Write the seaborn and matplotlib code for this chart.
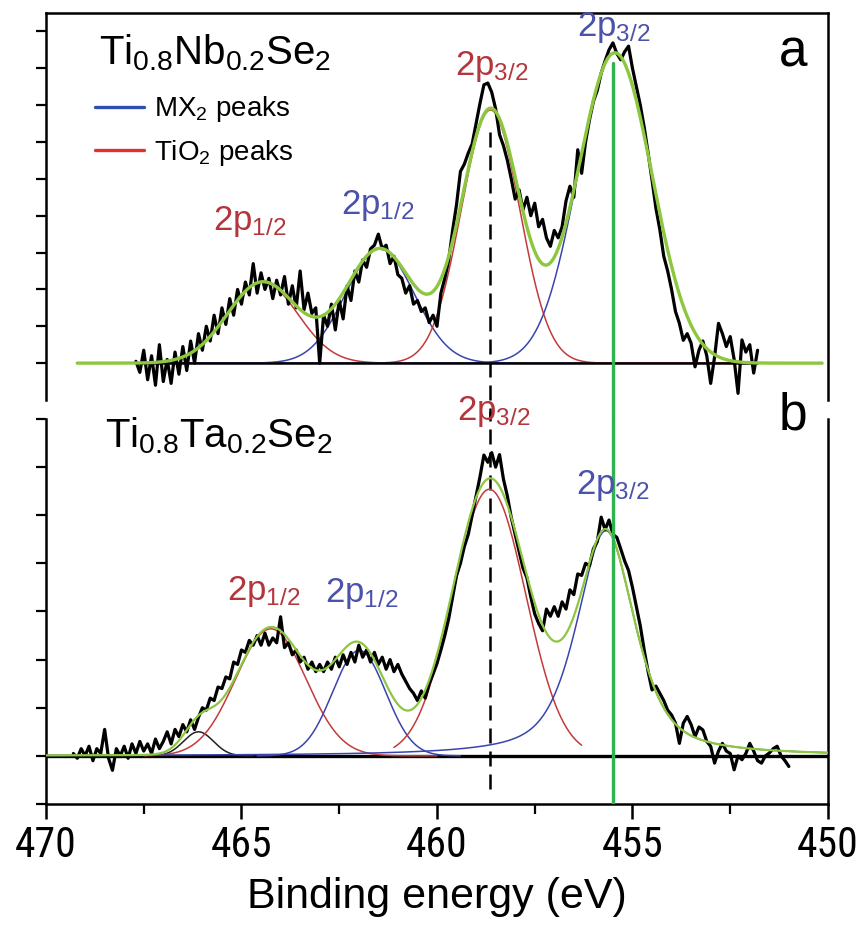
import numpy as np
import pandas as pd
import matplotlib
matplotlib.use("Agg")
import matplotlib.pyplot as plt
from matplotlib.lines import Line2D
from matplotlib.ticker import MultipleLocator
from matplotlib import font_manager
import seaborn as sns

# ---------------- data ----------------
energy_step = 0.1
# panel a: Ti0.8Nb0.2Se2 measured spectrum, starts at 467.7 eV going down
a_start = 467.7
a_counts = [0.05, -0.25, 0.35, -0.45, 0.2, -0.6, 0.5, -0.5, 0.1, -0.55,
            0.3, -0.3, 0.45, -0.2, 0.6, 0.0, 0.8, 0.35, 1.0, 0.6,
            1.3, 0.8, 1.5, 1.05, 1.75, 1.3, 2.0, 1.6, 2.2, 1.85,
            2.7, 1.9, 2.45, 2.0, 2.3, 1.75, 2.25, 1.85, 2.35, 1.6,
            2.1, 1.5, 2.5, 1.45, 1.9, 1.35, 1.5, 0.0, 1.3, 1.0,
            1.6, 0.9, 1.7, 1.2, 2.1, 1.7, 2.5, 2.2, 2.8, 2.6,
            3.1, 3.2, 3.5, 3.1, 3.2, 2.7, 2.9, 2.4, 2.3, 1.9,
            2.1, 1.6, 1.7, 1.4, 1.5, 1.1, 1.3, 1.0, 1.9, 2.3,
            2.8, 3.6, 4.3, 5.2, 5.4, 5.7, 5.95, 6.5, 7.05, 7.55,
            7.6, 7.35, 6.9, 6.2, 5.9, 5.5, 5.0, 4.45, 4.7, 4.16,
            4.5, 4.0, 4.34, 3.7, 3.9, 3.4, 3.17, 3.6, 3.4, 3.7,
            4.4, 4.8, 4.5, 5.79, 5.15, 6.0, 6.6, 7.1, 7.4, 7.87,
            8.2, 8.5, 8.69, 8.4, 8.23, 8.45, 8.6, 8.0, 7.5, 7.0,
            6.4, 5.7, 4.97, 4.2, 3.62, 2.9, 2.5, 2.0, 1.4, 1.08,
            0.62, 0.8, 0.54, -0.1, 0.35, 0.6, 0.2, -0.55, 0.17, 1.08,
            0.8, 0.45, 0.72, 0.1, -0.82, 0.63, 0.3, 0.5, -0.27, 0.35]
# panel b: Ti0.8Ta0.2Se2 measured spectrum, starts at 469.3 eV going down
b_start = 469.3
b_counts = [0.05, -0.05, 0.15, 0.0, 0.2, -0.1, 0.15, 0.05, 0.55, -0.05,
            -0.3, 0.15, 0.0, 0.2, -0.05, 0.25, 0.05, 0.3, 0.1, 0.25,
            0.05, 0.35, 0.15, 0.3, 0.5, 0.25, 0.55, 0.4, 0.65, 0.5,
            0.75, 0.55, 0.8, 1.0, 0.95, 1.2, 1.15, 1.43, 1.4, 1.64,
            1.6, 1.95, 1.9, 2.2, 2.15, 2.4, 2.3, 2.5, 2.3, 2.55,
            2.3, 2.45, 2.35, 2.89, 2.25, 2.35, 2.1, 2.2, 1.95, 2.05,
            1.8, 1.95, 1.75, 1.9, 1.75, 1.95, 1.8, 2.05, 1.85, 2.1,
            1.9, 2.15, 1.95, 2.3, 2.05, 2.2, 1.95, 2.15, 1.9, 2.05,
            1.8, 2.0, 1.75, 1.9, 1.7, 1.55, 1.4, 1.3, 1.15, 1.35,
            1.2, 1.5, 1.7, 1.92, 2.2, 2.5, 2.85, 3.3, 3.75, 4.0,
            4.35, 4.6, 5.0, 5.4, 5.8, 6.25, 6.1, 6.3, 6.0, 6.26,
            5.75, 5.4, 4.95, 4.6, 4.25, 3.9, 3.7, 3.3, 2.95, 2.75,
            2.6, 3.05, 2.9, 3.1, 2.9, 3.2, 3.05, 3.45, 3.35, 3.78,
            3.75, 4.0, 3.95, 4.3, 4.45, 4.96, 4.7, 4.9, 4.6, 4.54,
            4.3, 4.05, 3.85, 3.5, 3.1, 2.7, 2.2, 1.75, 1.37, 1.45,
            1.3, 1.15, 0.95, 0.85, 0.68, 0.26, 0.68, 0.82, 0.65, 0.4,
            0.6, 0.54, 0.3, 0.2, -0.15, 0.1, 0.26, 0.1, 0.05, -0.29,
            0.0, -0.08, 0.05, 0.26, 0.1, -0.1, -0.15, 0.0, 0.06, 0.15,
            0.2, 0.0, -0.1, -0.22]

# fitted peak components (pseudo-Voigt: centre eV, height, HWHM eV, Lorentz fraction)
a_kind = ["TiO2", "MX2", "TiO2", "MX2"]
a_center = [464.46, 461.46, 458.63, 455.45]
a_height = [2.2, 3.1, 6.87, 8.42]
a_hwhm = [1.06, 1.036, 0.883, 1.119]
a_eta = [0.0, 0.0, 0.0, 0.0]
a_fit_range = [469.2, 450.15]

b_kind = ["other", "TiO2", "MX2", "TiO2", "MX2"]
b_center = [466.1, 464.25, 461.99, 458.66, 455.68]
b_height = [0.5, 2.64, 2.19, 5.54, 4.68]
b_hwhm = [0.45, 1.06, 0.80, 1.095, 0.88]
b_eta = [0.0, 0.0, 0.0, 0.0, 0.6]
b_comp_hi = [467.0, 467.5, 464.6, 461.1, 470.0]
b_comp_lo = [464.7, 460.0, 459.4, 456.3, 450.0]
b_fit_range = [470.0, 450.0]

peak_labels = ["2p$_{1/2}$", "2p$_{1/2}$", "2p$_{3/2}$", "2p$_{3/2}$"]
peak_label_kind = ["TiO2", "MX2", "TiO2", "MX2"]
sample_names = ["Ti$_{0.8}$Nb$_{0.2}$Se$_{2}$", "Ti$_{0.8}$Ta$_{0.2}$Se$_{2}$"]
panel_letters = ["a", "b"]
legend_labels = ["MX$_{2}$ peaks", "TiO$_{2}$ peaks"]
ref_energies = [458.65, 455.5]   # dashed TiO2 marker, green MX2 marker
x_ticks = [470, 465, 460, 455, 450]

# ---------------- style ----------------
sns.set_style("ticks")
plt.rcParams["font.family"] = ["Liberation Sans", "DejaVu Sans"]
plt.rcParams["mathtext.fontset"] = "custom"
plt.rcParams["mathtext.rm"] = "Liberation Sans"
plt.rcParams["mathtext.it"] = "Liberation Sans:italic"
plt.rcParams["mathtext.default"] = "regular"
for key in ("text.color", "axes.labelcolor", "xtick.color", "ytick.color",
            "axes.edgecolor"):
    plt.rcParams[key] = "black"

installed = {f.name for f in font_manager.fontManager.ttflist}
narrow_family = "Liberation Sans"
narrow_size = 27
for cand in ("Liberation Sans Narrow", "Roboto Condensed", "Open Sans Condensed",
             "DejaVu Sans Condensed"):
    if cand in installed:
        narrow_family = cand
        narrow_size = 30
        break

comp_col = {"TiO2": "#c43a3a", "MX2": "#3a44ae", "other": "#222222"}
label_col = {"TiO2": "#b3363c", "MX2": "#4b52aa"}
fit_col = "#8dc63f"
mx2_line_col = "#2fb34f"


def pv(e, c, h, w, eta):
    x = (e - c) / w
    return h * (eta / (1 + x ** 2) + (1 - eta) * np.exp(-np.log(2) * x ** 2))


fig = plt.figure(figsize=(8.58, 9.35), dpi=100)
ax_a = fig.add_axes([0.0536, 0.5722, 0.9114, 0.4139])
ax_b = fig.add_axes([0.0536, 0.1401, 0.9114, 0.4118])

# ---------------- panel a ----------------
ea = a_start - energy_step * np.arange(len(a_counts))
grid_a = np.linspace(a_fit_range[0], a_fit_range[1], 900)
fit_a = np.zeros_like(grid_a)
for k, c, h, w, eta in zip(a_kind, a_center, a_height, a_hwhm, a_eta):
    comp = pv(grid_a, c, h, w, eta)
    fit_a += comp
    sns.lineplot(x=grid_a, y=comp, ax=ax_a, color=comp_col[k], lw=1.1,
                 sort=False, estimator=None, zorder=3)
ax_a.hlines(0, ea.min(), ea.max(), color="black", lw=1.8, zorder=4)
sns.lineplot(x=ea, y=a_counts, ax=ax_a, color="black", lw=2.3,
             sort=False, estimator=None, zorder=5)
sns.lineplot(x=grid_a, y=fit_a, ax=ax_a, color=fit_col, lw=2.4,
             sort=False, estimator=None, zorder=6)
ax_a.axvline(ref_energies[0], ymin=-0.06, ymax=0.71, color="black", lw=1.8,
             dashes=(6, 3.2), zorder=2, clip_on=False)
ax_a.axvline(ref_energies[1], ymin=-0.06, ymax=0.87, color=mx2_line_col, lw=2.4,
             zorder=7, clip_on=False)

# ---------------- panel b ----------------
eb = b_start - energy_step * np.arange(len(b_counts))
grid_b = np.linspace(b_fit_range[0], b_fit_range[1], 1000)
fit_b = np.zeros_like(grid_b)
ax_b.axhline(0, color="black", lw=2.4, zorder=2)
for k, c, h, w, eta, hi, lo in zip(b_kind, b_center, b_height, b_hwhm, b_eta,
                                   b_comp_hi, b_comp_lo):
    fit_b += pv(grid_b, c, h, w, eta)
    sub = np.linspace(hi, lo, 600)
    sns.lineplot(x=sub, y=pv(sub, c, h, w, eta), ax=ax_b, color=comp_col[k],
                 lw=1.1, sort=False, estimator=None, zorder=3)
sns.lineplot(x=eb, y=b_counts, ax=ax_b, color="black", lw=2.3,
             sort=False, estimator=None, zorder=5)
sns.lineplot(x=grid_b, y=fit_b, ax=ax_b, color=fit_col, lw=1.6,
             sort=False, estimator=None, zorder=6)
ax_b.axvline(ref_energies[0], ymin=0.04, ymax=1.02, color="black", lw=1.8,
             dashes=(6, 3.2), zorder=2, clip_on=False)
ax_b.axvline(ref_energies[1], ymin=0.0, ymax=1.0, color=mx2_line_col, lw=2.4,
             zorder=7)

# ---------------- axes styling ----------------
for ax in (ax_a, ax_b):
    ax.set_xlim(470, 450)
    ax.set_xlabel("")
    ax.set_ylabel("")
    for s in ax.spines.values():
        s.set_linewidth(1.8)
        s.set_color("black")
    ax.tick_params(axis="y", which="major", direction="out", length=7, width=1.6,
                   labelleft=False)

ax_a.set_ylim(-1, 9.5)
ax_a.set_yticks(range(0, 10))
ax_a.spines["bottom"].set_visible(False)
ax_a.tick_params(axis="x", which="both", bottom=False, labelbottom=False)

ax_b.set_ylim(-1, 7)
ax_b.set_yticks(range(-1, 8))
ax_b.spines["top"].set_visible(False)
ax_b.set_xticks(x_ticks)
ax_b.xaxis.set_minor_locator(MultipleLocator(2.5))
ax_b.tick_params(axis="x", which="major", direction="out", length=11, width=1.8,
                 pad=4, labelsize=narrow_size)
ax_b.tick_params(axis="x", which="minor", direction="out", length=7, width=1.6)
for lab in ax_b.get_xticklabels():
    lab.set_fontfamily([narrow_family, "Liberation Sans"])
ax_b.set_xlabel("Binding energy (eV)", fontsize=31, labelpad=8)

# ---------------- texts ----------------
lab_pos_a = [(464.78, 3.83), (461.52, 4.27), (458.60, 8.04), (455.48, 9.10)]
lab_pos_b = [(464.42, 3.42), (461.93, 3.37), (458.55, 7.16), (455.51, 5.61)]
for ax, pos in ((ax_a, lab_pos_a), (ax_b, lab_pos_b)):
    for txt, kind, (x, y) in zip(peak_labels, peak_label_kind, pos):
        ax.text(x, y, txt, color=label_col[kind], fontsize=25, ha="center",
                va="center", zorder=8, clip_on=False)

ax_a.text(468.64, 8.1, sample_names[0], fontsize=29, ha="left", va="baseline")
ax_b.text(468.49, 6.4, sample_names[1], fontsize=29, ha="left", va="baseline")
ax_a.text(450.9, 8.42, panel_letters[0], fontsize=37, ha="center", va="center")
ax_b.text(450.9, 7.06, panel_letters[1], fontsize=37, ha="center", va="center",
          clip_on=False)

handles = [Line2D([], [], color="#2f4fb0", lw=2.4),
           Line2D([], [], color="#e0332f", lw=2.4)]
ax_a.legend(handles, legend_labels, loc="upper left", bbox_to_anchor=(0.063, 0.79),
            frameon=False, fontsize=20, handlelength=1.75, handletextpad=0.35,
            labelspacing=0.5, borderaxespad=0, borderpad=0)

fig.savefig("out.png", dpi=100)
